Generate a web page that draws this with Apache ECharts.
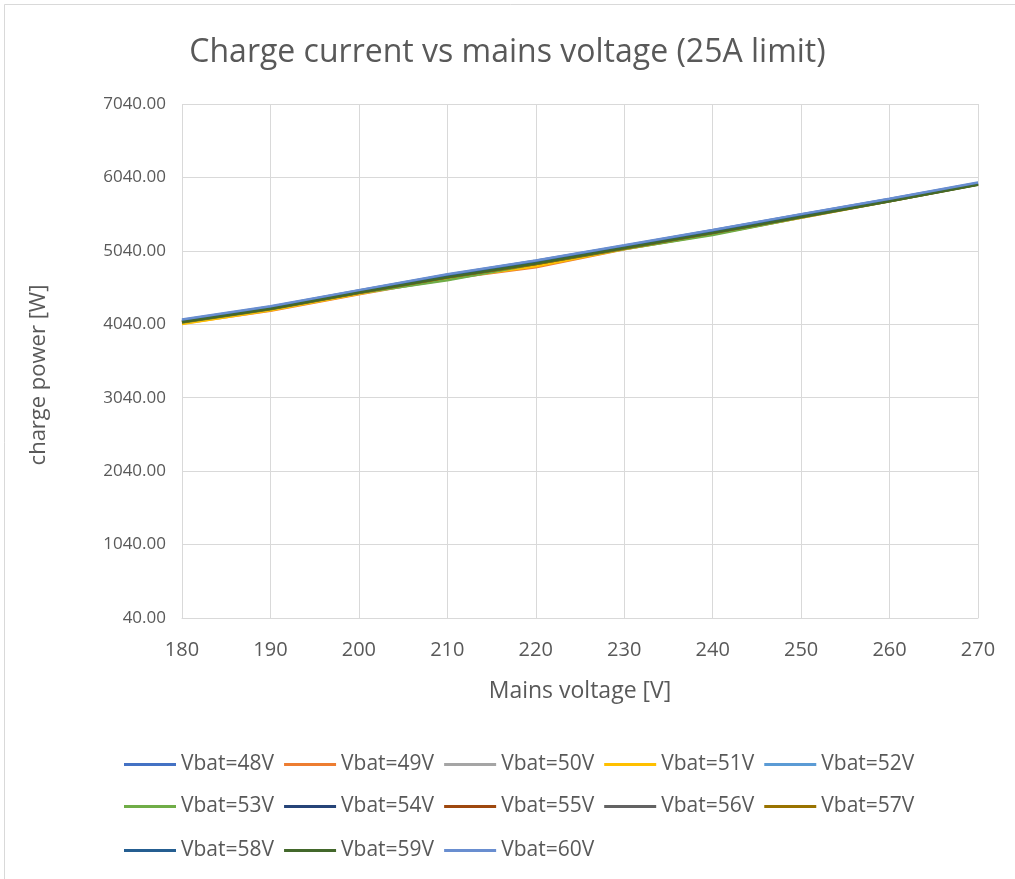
<!DOCTYPE html>
<html>
<head>
<meta charset="utf-8">
<script src="https://cdn.jsdelivr.net/npm/echarts@6/dist/echarts.min.js"></script>
<style>
html,body{margin:0;padding:0;background:#fff;}
#c{width:1015px;height:879px;}
</style>
</head>
<body>
<div id="c"></div>
<script>
const mainsVoltage = [180,190,200,210,220,230,240,250,260,270];
const yTickLabels = ['40.00','1040.00','2040.00','3040.00','4040.00','5040.00','6040.00','7040.00'];
const seriesNames = ['Vbat=48V','Vbat=49V','Vbat=50V','Vbat=51V','Vbat=52V','Vbat=53V','Vbat=54V','Vbat=55V','Vbat=56V','Vbat=57V','Vbat=58V','Vbat=59V','Vbat=60V'];
const vbat48 = [4100,4280,4500,4715,4905,5110,5320,5535,5745,5965];
const vbat49 = [4050,4225,4450,4660,4815,5060,5265,5490,5715,5945];
const vbat50 = [4060,4240,4460,4650,4850,5070,5280,5500,5720,5950];
const vbat51 = [4045,4230,4455,4665,4830,5065,5270,5495,5720,5948];
const vbat52 = [4090,4270,4490,4700,4895,5100,5310,5525,5740,5962];
const vbat53 = [4065,4245,4465,4640,4860,5065,5255,5495,5715,5945];
const vbat54 = [4080,4260,4480,4690,4880,5085,5295,5510,5728,5952];
const vbat55 = [4070,4250,4470,4680,4860,5075,5285,5505,5722,5948];
const vbat56 = [4075,4255,4475,4685,4870,5080,5290,5508,5725,5950];
const vbat57 = [4068,4248,4470,4678,4862,5072,5282,5502,5720,5946];
const vbat58 = [4085,4265,4485,4695,4885,5090,5300,5515,5732,5955];
const vbat59 = [4072,4252,4472,4682,4868,5078,5285,5500,5715,5940];
const vbat60 = [4105,4285,4505,4720,4910,5115,5325,5540,5750,5970];
const seriesValues = [vbat48,vbat49,vbat50,vbat51,vbat52,vbat53,vbat54,vbat55,vbat56,vbat57,vbat58,vbat59,vbat60];
const colors = ['#4472C4','#ED7D31','#A5A5A5','#FFC000','#5B9BD5','#70AD47','#264478','#9E480E','#636363','#997300','#255E91','#43682B','#698ED0'];

const FONT = 'Open Sans';
const TXT = '#595959';
const GRIDC = '#d9d9d9';

const chart = echarts.init(document.getElementById('c'), null, {renderer:'canvas'});

function legendRow(names, top){
  return {
    data: names, top: top, left: 119, orient:'horizontal',
    itemWidth: 52, itemHeight: 3, itemGap: 10, icon: 'rect',
    textStyle: {fontFamily: FONT, fontSize: 21, color: TXT},
    selectedMode: false
  };
}

chart.setOption({
  animation: false,
  backgroundColor: '#fff',
  color: colors,
  title: {
    text: 'Charge current vs mains voltage (25A limit)',
    left: 'center', top: 32,
    textStyle: {fontFamily: FONT, fontSize: 32, fontWeight: 'normal', color: TXT}
  },
  graphic: [{
    type:'rect', shape:{x:4.5,y:4.5,width:1020,height:900},
    style:{fill:'none', stroke:'#d9d9d9', lineWidth:1}, silent:true
  }],
  legend: [
    legendRow(seriesNames.slice(0,5), 749),
    legendRow(seriesNames.slice(5,10), 791),
    legendRow(seriesNames.slice(10,13), 835)
  ],
  grid: {left:182, right:37, top:104, bottom:261, containLabel:false},
  xAxis: {
    type:'value', min:180, max:270, interval:10,
    name:'Mains voltage [V]', nameLocation:'middle', nameGap:62,
    nameTextStyle:{fontFamily:FONT, fontSize:23, color:TXT},
    axisLine:{show:true, lineStyle:{color:GRIDC}},
    axisTick:{show:false},
    axisLabel:{fontFamily:FONT, fontSize:20, color:TXT, margin:22},
    splitLine:{show:true, lineStyle:{color:GRIDC, width:1}}
  },
  yAxis: [{
    type:'value', min:0, max:7000, interval:1000,
    name:'charge power [W]', nameLocation:'middle', nameGap:132,
    nameTextStyle:{fontFamily:FONT, fontSize:22, color:TXT, padding:[0,28,0,0]},
    axisLine:{show:false}, axisTick:{show:false},
    axisLabel:{fontFamily:FONT, fontSize:17, color:TXT, margin:16,
      formatter:function(v){ return yTickLabels[Math.round(v/1000)]; }},
    splitLine:{show:true, lineStyle:{color:GRIDC, width:1}}
  },{
    type:'value', min:40, max:7040, show:false,
    splitLine:{show:false}
  }],
  series: seriesNames.map((n,i)=>({
    name:n, type:'line', yAxisIndex:1, showSymbol:false, symbol:'none',
    data: mainsVoltage.map((x,j)=>[x, seriesValues[i][j]]),
    lineStyle:{width:2.5, color:colors[i]}, itemStyle:{color:colors[i]}
  }))
});
</script>
</body>
</html>
